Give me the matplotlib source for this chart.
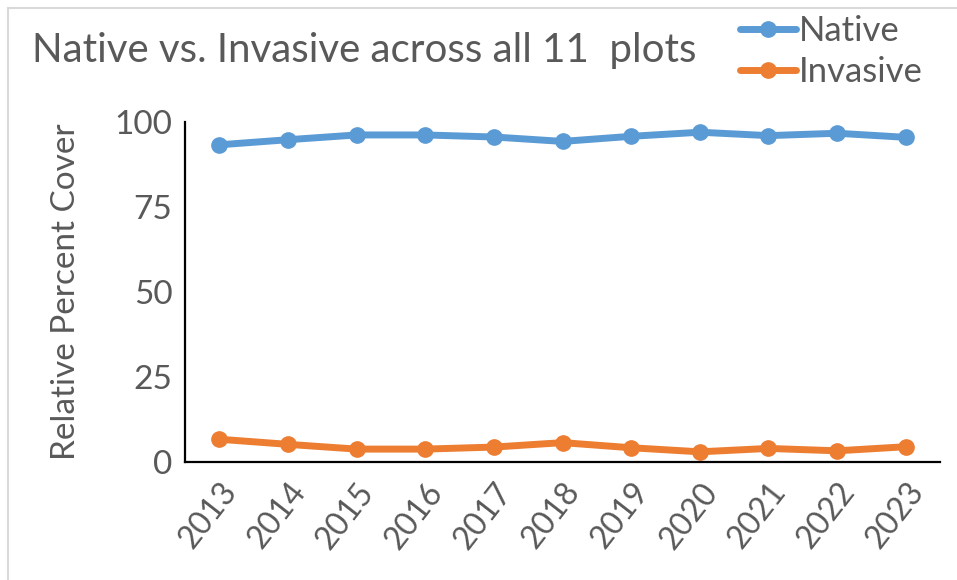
import matplotlib.pyplot as plt
from matplotlib.lines import Line2D

years = ["2013", "2014", "2015", "2016", "2017", "2018", "2019", "2020", "2021", "2022", "2023"]
native = [93.3, 94.8, 96.2, 96.2, 95.6, 94.3, 95.8, 97.0, 96.0, 96.7, 95.5]
invasive = [6.7, 5.2, 3.8, 3.8, 4.4, 5.7, 4.2, 3.0, 4.0, 3.3, 4.5]
yticks = [0, 25, 50, 75, 100]

grey = "#595959"
plt.rcParams["font.family"] = ["Lato", "DejaVu Sans"]

fig = plt.figure(figsize=(9.57, 5.8), dpi=100)
ax = fig.add_axes([0.1933, 0.2034, 0.789, 0.5862])

x = list(range(len(years)))
ax.plot(x, native, color="#5B9BD5", lw=5, marker="o", ms=11, label="Native",
        solid_capstyle="round")
ax.plot(x, invasive, color="#ED7D31", lw=5, marker="o", ms=11, label="Invasive",
        solid_capstyle="round")

ax.set_xlim(-0.5, len(years) - 0.5)
ax.set_ylim(0, 100)
ax.set_yticks(yticks)
ax.set_yticklabels([str(t) for t in yticks], fontsize=24, color=grey)
ax.set_xticks(x)
ax.set_xticklabels(years, rotation=52, ha="right", rotation_mode="anchor",
                   fontsize=23, color=grey)
ax.tick_params(axis="both", length=0)
ax.tick_params(axis="y", pad=9)
ax.tick_params(axis="x", pad=11)

for side in ("top", "right"):
    ax.spines[side].set_visible(False)
for side in ("left", "bottom"):
    ax.spines[side].set_color("black")
    ax.spines[side].set_linewidth(1.6)

ax.set_ylabel("Relative Percent Cover", fontsize=24, color=grey, labelpad=24)

fig.text(0.033, 0.913, "Native vs. Invasive across all 11  plots",
         fontsize=29, color=grey, va="center", ha="left")

leg = fig.legend(loc="upper right", bbox_to_anchor=(0.997, 1.028), frameon=False,
                 fontsize=25, handlelength=1.6, handletextpad=0.1,
                 labelspacing=0.25, labelcolor=grey)

# light chart-area frame on the top and left edges
fig.add_artist(Line2D([0.008, 0.008], [0, 0.987], color="#d9d9d9", lw=1.5,
                      transform=fig.transFigure))
fig.add_artist(Line2D([0.008, 1.0], [0.987, 0.987], color="#d9d9d9", lw=1.5,
                      transform=fig.transFigure))

fig.savefig("out.png", dpi=100)
